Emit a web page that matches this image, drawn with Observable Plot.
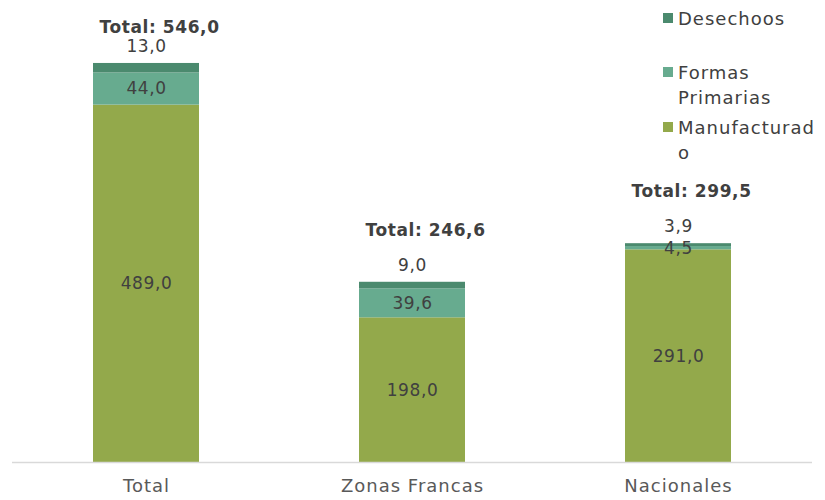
<!DOCTYPE html>
<html>
<head>
<meta charset="utf-8">
<script src="https://cdn.jsdelivr.net/npm/d3@7"></script>
<script src="https://cdn.jsdelivr.net/npm/@observablehq/plot@0.6"></script>
<style>
  html, body { margin: 0; padding: 0; background: #fff; }
  #wrap { position: relative; width: 825px; height: 500px; font-family: "DejaVu Sans", sans-serif; overflow: hidden; }
  .legend { position: absolute; left: 663px; top: 0; font-size: 18px; letter-spacing: 1px; color: #404040; }
  .item { position: absolute; left: 0; white-space: nowrap; }
  .sw { position: absolute; left: 0; width: 10px; height: 10px; }
  .lines { position: absolute; left: 15px; line-height: 25px; }
</style>
</head>
<body>
<div id="wrap"></div>
<script>
const categories = ["Total", "Zonas Francas", "Nacionales"];
const series = ["Manufacturado", "Formas Primarias", "Desechoos"];
const manufacturado = [489.0, 198.0, 291.0];
const formasPrimarias = [44.0, 39.6, 4.5];
const desechoos = [13.0, 9.0, 3.9];
const totals = [546.0, 246.6, 299.5];
const colors = ["#93a94b", "#67ab8f", "#4b8a6e"];
const legendLines = [["Desechoos"], ["Formas", "Primarias"], ["Manufacturad", "o"]];

const fmt = v => v.toFixed(1).replace(".", ",");
const valuesBySeries = [manufacturado, formasPrimarias, desechoos];

const rows = [];
categories.forEach((cat, i) => {
  let base = 0;
  series.forEach((s, j) => {
    const v = valuesBySeries[j][i];
    rows.push({cat, series: s, value: v, y0: base, y1: base + v, mid: base + v / 2});
    base += v;
  });
});
const totalRows = categories.map((cat, i) => ({cat, total: totals[i], top: rows.filter(r => r.cat === cat).reduce((a, r) => Math.max(a, r.y1), 0)}));

const chart = Plot.plot({
  width: 825,
  height: 500,
  marginLeft: 12,
  marginRight: 13,
  marginTop: 23.5,
  marginBottom: 38,
  style: {fontFamily: "DejaVu Sans, sans-serif", fontSize: "17px", color: "#404040", background: "#fff"},
  x: {domain: categories, paddingInner: 0.6, paddingOuter: 0.3, label: null, tickSize: 0, tickPadding: 17},
  y: {domain: [0, 600], axis: null},
  color: {domain: series, range: colors},
  marks: [
    Plot.barY(rows, {x: "cat", y1: "y0", y2: "y1", fill: "series"}),
    Plot.ruleY([0], {stroke: "#d9d9d9", strokeWidth: 1.5}),
    Plot.text(rows.filter(r => r.series !== "Desechoos"), {x: "cat", y: "mid", text: d => fmt(d.value), fill: "#404040", fontSize: 17}),
    Plot.text(rows.filter(r => r.series === "Desechoos"), {x: "cat", y: "y1", text: d => fmt(d.value), dy: -17, fill: "#404040", fontSize: 17}),
    Plot.text(totalRows, {x: "cat", y: d => Math.min(d.top + 71, 595), text: d => "Total: " + fmt(d.total), dx: 13, fill: "#404040", fontSize: 17, fontWeight: "bold"})
  ]
});
chart.querySelectorAll('[aria-label="x-axis tick label"] text').forEach(t => {
  t.setAttribute("fill", "#595959");
  t.setAttribute("font-size", "18");
  t.style.letterSpacing = "1px";
});
chart.querySelectorAll('[aria-label="text"] text').forEach(t => {
  if (t.getAttribute("font-weight") !== "bold") t.style.letterSpacing = "0.6px";
});
const wrap = document.getElementById("wrap");
wrap.appendChild(chart);

const legend = document.createElement("div");
legend.className = "legend";
const tops = [5.5, 59.5, 114.5];
legendLines.forEach((lines, k) => {
  const idx = series.length - 1 - k;
  const item = document.createElement("div");
  item.className = "item";
  item.style.top = tops[k] + "px";
  const sw = document.createElement("div");
  sw.className = "sw";
  sw.style.background = colors[idx];
  sw.style.top = "7.5px";
  const txt = document.createElement("div");
  txt.className = "lines";
  txt.innerHTML = lines.map(l => `<div>${l}</div>`).join("");
  item.appendChild(sw);
  item.appendChild(txt);
  legend.appendChild(item);
});
wrap.appendChild(legend);
</script>
</body>
</html>
